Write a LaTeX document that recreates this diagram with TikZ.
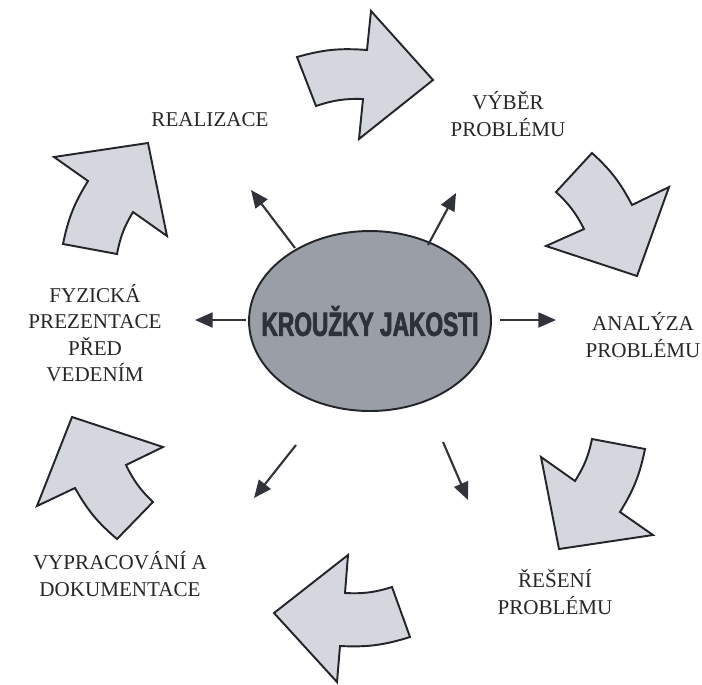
\documentclass[tikz,border=0pt]{standalone}
\usepackage{fontspec}
\setmainfont{Liberation Serif}
\newfontfamily\hubfont[FakeStretch=0.68,FakeBold=2.2]{Liberation Sans}
\usetikzlibrary{shapes.geometric,arrows.meta}
\definecolor{arrowfill}{RGB}{212,216,222}
\definecolor{outline}{RGB}{35,37,42}
\definecolor{hubfill}{RGB}{154,158,166}
\definecolor{hubtext}{RGB}{45,49,58}
\definecolor{spoke}{RGB}{48,51,58}
\begin{document}
\begin{tikzpicture}[x=0.02cm,y=-0.02cm,
  bigarrow/.style={fill=arrowfill,draw=outline,line width=1.1pt,line join=miter},
  spokearrow/.style={draw=spoke,line width=1.2pt,-{Triangle[length=10pt,width=8.5pt]}},
  steplabel/.style={font=\fontsize{12}{15}\selectfont,align=center,inner sep=0pt,text=black!85},
]
\useasboundingbox (0,0) rectangle (702,684);

% central ellipse and its title
\node[ellipse,draw=outline,line width=1.1pt,fill=hubfill,
      minimum width=4.84cm,minimum height=3.6cm,inner sep=0pt] (hub) at (370,321) {};
\node[inner sep=0pt] (hubtitle) at (hub.center)
  {\hubfont\bfseries\fontsize{19}{21}\selectfont\color{hubtext}KROUŽKY JAKOSTI};

% step labels
\node[steplabel] (realizace) at (210,120) {REALIZACE};
\node[steplabel] (vyber) at (508,114) {VÝBĚR\\PROBLÉMU};
\node[steplabel] (analyza) at (643,335) {ANALÝZA\\PROBLÉMU};
\node[steplabel] (reseni) at (555,592) {ŘEŠENÍ\\PROBLÉMU};
\node[steplabel] (vypracovani) at (120,574) {VYPRACOVÁNÍ A\\DOKUMENTACE};
\node[steplabel] (fyzicka) at (95,333) {FYZICKÁ\\PREZENTACE\\PŘED\\VEDENÍM};

% spokes from the ellipse
\coordinate (sL) at (246,320);  \coordinate (eL) at (195,320);
\coordinate (sR) at (500,320);  \coordinate (eR) at (556,320);
\coordinate (sUL) at (295,248); \coordinate (eUL) at (251,190);
\coordinate (sUR) at (428,245); \coordinate (eUR) at (456,193);
\coordinate (sLL) at (296,445); \coordinate (eLL) at (254,498);
\coordinate (sLR) at (443,442); \coordinate (eLR) at (468,500);
\draw[spokearrow] (sL) -- (eL);
\draw[spokearrow] (sR) -- (eR);
\draw[spokearrow] (sUL) -- (eUL);
\draw[spokearrow] (sUR) -- (eUR);
\draw[spokearrow] (sLL) -- (eLL);
\draw[spokearrow] (sLR) -- (eLR);

% curved block arrows, clockwise cycle
\draw[bigarrow] (297,57) to[bend left=10] (367,50) -- (371,11) -- (433,80)
  -- (359,139) -- (363,99) to[bend right=10] (316,106) -- cycle;
\draw[bigarrow] (592,153) to[bend left=10] (632,205) -- (669,187) -- (637,276)
  -- (546,246) -- (584,229) to[bend right=10] (556,192) -- cycle;
\draw[bigarrow] (645,449) to[bend left=10] (620,512) -- (653,535) -- (559,549)
  -- (541,457) -- (575,481) to[bend right=10] (592,439) -- cycle;
\draw[bigarrow] (410,637) to[bend left=10] (340,646) -- (337,682) -- (274,613)
  -- (348,555) -- (345,593) to[bend right=10] (392,587) -- cycle;
\draw[bigarrow] (117,539) to[bend left=10] (75,488) -- (37,506) -- (72,417)
  -- (163,447) -- (126,465) to[bend right=10] (153,502) -- cycle;
\draw[bigarrow] (63,244) to[bend left=10] (88,181) -- (54,157) -- (148,143)
  -- (167,236) -- (133,212) to[bend right=10] (117,254) -- cycle;
\end{tikzpicture}
\end{document}
